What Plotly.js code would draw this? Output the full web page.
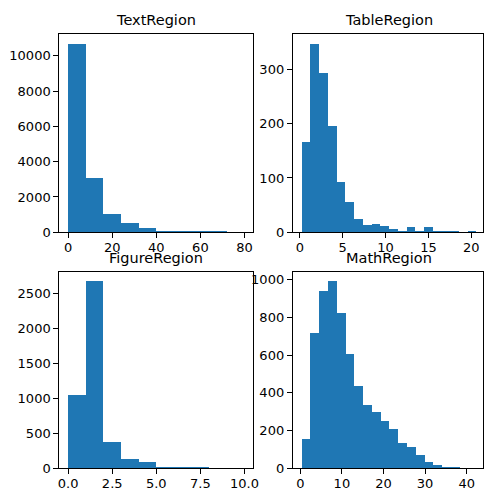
<!DOCTYPE html>
<html>
<head>
<meta charset="utf-8">
<script src="https://cdn.plot.ly/plotly-3.0.1.min.js"></script>
<style>
html,body{margin:0;padding:0;background:#fff;overflow:hidden;}
#chart{width:484px;height:488px;}
</style>
</head>
<body>
<div id="chart"></div>
<script>
// ---- Data (histogram counts) ----
const panelTitles = ["TextRegion", "TableRegion", "FigureRegion", "MathRegion"];

const textBinStart = 0;
const textBinWidth = 8;
const textCounts = [10680, 3080, 1020, 510, 230, 95, 85, 70, 60, 8];

const tableBinStart = 0.2;
const tableBinWidth = 1.02;
const tableCounts = [167, 347, 293, 195, 92, 55, 25, 14, 16, 12, 7, 3, 9, 2, 9, 3, 3, 2, 1, 3];

const figureBinStart = 0;
const figureBinWidth = 1;
const figureCounts = [1039, 2675, 370, 123, 90, 20, 16, 12, 2, 1];

const mathBinStart = 0.32;
const mathBinWidth = 2.11;
const mathCounts = [155, 717, 940, 994, 822, 604, 438, 336, 299, 251, 205, 131, 113, 71, 32, 14, 7, 5, 1, 1];

const textXTicks = [0, 20, 40, 60, 80];
const tableXTicks = [0, 5, 10, 15, 20];
const figureXTicks = [0, 2.5, 5, 7.5, 10];
const mathXTicks = [0, 10, 20, 30, 40];
const textYTicks = [0, 2000, 4000, 6000, 8000, 10000];
const tableYTicks = [0, 100, 200, 300];
const figureYTicks = [0, 500, 1000, 1500, 2000, 2500];
const mathYTicks = [0, 200, 400, 600, 800, 1000];

// ---- Build ----
const W = 484, H = 488;
const BLUE = "#1f77b4";
const FONT = "DejaVu Sans";

function centers(start, width, counts) {
  return counts.map((_, i) => start + width * (i + 0.5));
}
function barTrace(start, width, counts, xa, ya) {
  return {
    type: "bar",
    x: centers(start, width, counts),
    y: counts,
    width: counts.map(() => width),
    marker: {color: BLUE, line: {width: 0}},
    xaxis: xa, yaxis: ya,
    hoverinfo: "skip",
    showlegend: false
  };
}

const data = [
  barTrace(textBinStart, textBinWidth, textCounts, "x", "y"),
  barTrace(tableBinStart, tableBinWidth, tableCounts, "x2", "y2"),
  barTrace(figureBinStart, figureBinWidth, figureCounts, "x3", "y3"),
  barTrace(mathBinStart, mathBinWidth, mathCounts, "x4", "y4")
];

// pixel boxes of the four axes
const boxes = [
  {l: 59.3, r: 253.3, t: 34.3, b: 232.3},
  {l: 292.8, r: 483, t: 34.3, b: 232.3},
  {l: 59.3, r: 253.3, t: 271.7, b: 468},
  {l: 292.8, r: 483, t: 271.7, b: 468}
];

function axisBase() {
  return {
    showgrid: false, zeroline: false,
    showline: true, mirror: true, linecolor: "#000", linewidth: 1,
    ticks: "outside", ticklen: 5, tickwidth: 1, tickcolor: "#000",
    tickfont: {family: FONT, size: 13, color: "#000"},
    fixedrange: true
  };
}
function xAx(i, range, ticks, fmt) {
  const b = boxes[i];
  return Object.assign(axisBase(), {
    domain: [b.l / W, b.r / W], range: range,
    tickmode: "array", tickvals: ticks,
    ticktext: ticks.map(v => fmt ? v.toFixed(1) : String(v)),
    ticklabelstandoff: -2,
    anchor: i === 0 ? "y" : "y" + (i + 1)
  });
}
function yAx(i, maxCount, ticks) {
  const b = boxes[i];
  return Object.assign(axisBase(), {
    domain: [1 - b.b / H, 1 - b.t / H], range: [0, maxCount * 1.05],
    tickmode: "array", tickvals: ticks, ticktext: ticks.map(String),
    anchor: i === 0 ? "x" : "x" + (i + 1)
  });
}

const annotations = panelTitles.map((t, i) => {
  const b = boxes[i];
  const cx = i % 2 === 0 ? (b.l + b.r) / 2 : (b.l + 484.5) / 2;
  return {
    text: t, showarrow: false,
    xref: "paper", yref: "paper",
    x: cx / W, y: 1 - (b.t - 4) / H,
    xanchor: "center", yanchor: "bottom",
    font: {family: FONT, size: 14.5, color: "#000"}
  };
});

const layout = {
  width: W, height: H,
  margin: {l: 0, r: 0, t: 0, b: 0, pad: 0},
  paper_bgcolor: "#fff", plot_bgcolor: "#fff",
  font: {family: FONT, color: "#000"},
  showlegend: false,
  bargap: 0,
  xaxis: xAx(0, [-4, 84], textXTicks, false),
  yaxis: yAx(0, Math.max(...textCounts), textYTicks),
  xaxis2: xAx(1, [-0.82, 21.36], tableXTicks, false),
  yaxis2: yAx(1, Math.max(...tableCounts), tableYTicks),
  xaxis3: xAx(2, [-0.5, 10.5], figureXTicks, true),
  yaxis3: yAx(2, Math.max(...figureCounts), figureYTicks),
  xaxis4: xAx(3, [-1.8, 43.92], mathXTicks, false),
  yaxis4: yAx(3, Math.max(...mathCounts), mathYTicks),
  annotations: annotations
};

Plotly.newPlot("chart", data, layout, {displayModeBar: false, staticPlot: true});
</script>
</body>
</html>
